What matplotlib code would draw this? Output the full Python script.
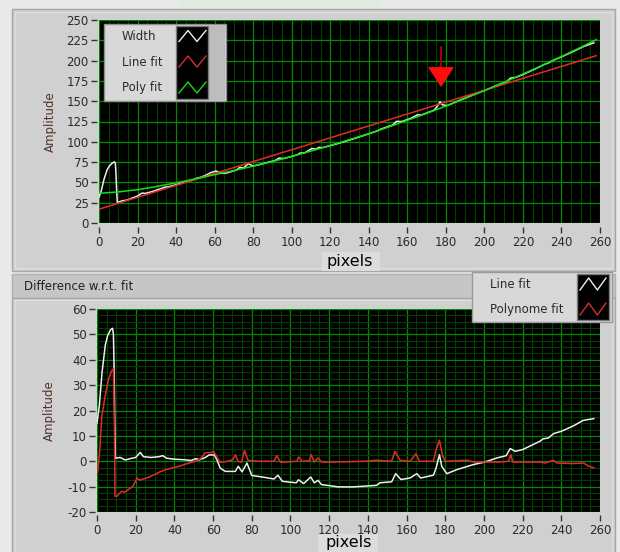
import matplotlib
matplotlib.use('Agg')
import matplotlib.pyplot as plt
from matplotlib.patches import Rectangle, Polygon
from matplotlib.ticker import MultipleLocator, NullLocator
import matplotlib.transforms as mtransforms

plt.rcParams['font.family'] = ['DejaVu Sans']
plt.rcParams['axes.unicode_minus'] = False

# ---------------- data ----------------
width_x = [0, 1.2, 2.6, 4.3, 5.5, 6.9, 8.0, 8.5, 8.8, 9.2, 9.5, 12, 14.6, 18, 20, 22.4, 24, 28, 32, 34,
           36, 40, 45, 48.7, 51, 53, 56, 58, 60.7, 62, 63.7, 66.3, 71.5, 73, 75, 77.5, 80, 87, 91.5, 93.5,
           95.8, 103, 104.2, 106.8, 110.5, 112.3, 114.3, 116, 120, 124.7, 132.4, 144.5, 146.2, 152.3, 154.4,
           157.1, 161.8, 165.3, 167.3, 173.9, 175.3, 177, 178.2, 180.8, 186, 194.6, 200, 206.7, 211.5, 213.6,
           216.2, 220, 229, 230.5, 233.4, 236, 240, 246.4, 251.3, 256.8]
width_y = [32, 39.9, 53.9, 66, 70.5, 73.8, 75.3, 73.2, 61.4, 37.7, 25.2, 27.3, 28.2, 31.4, 33.2, 36.9, 36.4, 39, 42.2, 44.1,
           44.6, 47.1, 50.6, 53, 55.4, 56.4, 59.5, 62, 64, 62.9, 61, 61.6, 65.4, 68.5, 67.7, 73.1, 70, 74.3, 77, 80,
           79.3, 84, 86, 86.4, 91.8, 90.8, 93.2, 92.8, 95.3, 98.3, 103.9, 113.4, 115.6, 120.5, 125.2,
           124.9, 128.9, 133.2, 133, 138.9, 142.8, 149.3, 145.5, 144.6, 150, 158.3, 163.1, 169.7, 174.1, 178.5,
           179.3, 182.8, 192.7, 194.7, 197.2, 200.8, 204.6, 211.5, 217.2, 221.9]

linefit_x = [0, 258]
linefit_y = [17, 206]

polyfit_x = [0, 10, 20, 30, 40, 50, 60, 70, 80, 90, 100, 110, 120, 130, 140, 150, 160, 170, 180, 190,
             200, 210, 220, 230, 240, 250, 258]
polyfit_y = [36.5, 38.3, 41, 45, 49.5, 54.3, 59.5, 64.6, 70, 75.8, 82, 88.6, 95.5, 102.6, 110, 118, 126.5,
             135, 144, 153.4, 163, 173, 183.5, 194, 205, 216.3, 225.8]

# differences w.r.t. line fit (same pixel positions as width)
diff_line_x = width_x
diff_line_y = [15, 22, 35, 45.8, 49.5, 51.7, 52.4, 50, 38, 14, 1.2, 1.5, 0.5, 1.2, 1.5, 3.5, 1.8, 1.5, 1.8, 2.2,
               1.2, 0.8, 0.6, 0.3, 1.0, 0.6, 1.5, 2.5, 2.5, 0.5, -2.7, -4, -4, -2, -4.2, -0.7, -5.6, -6.4, -7, -5.5,
               -7.9, -8.5, -7.3, -8.8, -6.2, -8.5, -7.5, -9.2, -9.6, -10.1, -10.1, -9.5, -8.5, -8.1, -4.9,
               -7.2, -6.6, -4.9, -6.6, -5.5, -2.6, 2.6, -2, -4.9, -3.3, -1.3, -0.4, 1.3, 2.2, 5,
               3.9, 4.6, 7.9, 8.8, 9.2, 10.9, 11.8, 14, 16.1, 16.8]

diff_poly_x = [0.3, 1.4, 2.5, 4.2, 5.9, 7.6, 8.5, 9.0, 9.3, 10.2, 12.7, 14.4, 18.6, 20.7, 22, 27.1, 32.2, 35.6,
               42.4, 47.5, 50.8, 53.4, 55.9, 59.3, 60.2, 63.6, 67.8, 70.3, 71.5, 72.9, 74.6, 76.3, 78, 83, 91.5,
               92.9, 94.9, 103.4, 104.2, 106, 109.7, 110.7, 112.3, 114.3, 116, 122, 139, 144.5, 152.3, 154,
               156.6, 161.8, 164.9, 166.6, 173.9, 175.3, 177, 178.7, 180, 191.2, 194.6, 208.4, 212.7, 213.9,
               214.9, 229, 231.6, 236, 237.7, 246.4, 251.6, 254.2, 256.8]
diff_poly_y = [-4.3, 4, 17.7, 25.6, 32.2, 35.7, 36.4, 13.8, -13.8, -13.8, -11.8, -12.2, -9.8, -6.6, -7.5, -6.2,
               -4.3, -3.3, -2, -0.7, 0, 0.9, 3.3, 3.5, 3.9, -0.4, 0, 0.7, 2.6, 0, -0.4, 4.2, 0.4, 0, 0,
               2.2, -0.4, 0, 1.7, 0, 0.2, 2.6, -0.3, 1.3, -0.3, -0.3, 0, 0.4, 0, 3.9,
               0.4, 0, 3, 0, 0, 4.6, 8.3, 2, 0, 0.4, -0.3, -0.3, 0, 2.6,
               -0.3, -0.3, -0.7, 0.4, -0.7, -0.9, -0.7, -2, -2.6]

top_labels = ["Width", "Line fit", "Poly fit"]
bottom_labels = ["Line fit", "Polynome fit"]
marker_x = 177.5  # arrow marking the peak

# ---------------- figure ----------------
W, H = 620, 552
fig = plt.figure(figsize=(6.2, 5.52), dpi=100)
fig.patch.set_facecolor('#e9e9e9')


def px_axes(x0, y0, x1, y1, **kw):
    return fig.add_axes([x0 / W, 1 - y1 / H, (x1 - x0) / W, (y1 - y0) / H], **kw)


bg = px_axes(0, 0, W, H, zorder=0)
bg.set_xlim(0, W); bg.set_ylim(H, 0); bg.axis('off')
bg.add_patch(Rectangle((180, 0), 200, 9, fc='#e2ebe2', ec='none'))
bg.add_patch(Rectangle((12, 9), 603, 262, fc='#d0d0d0', ec='#a6a6a6', lw=1))
bg.add_patch(Rectangle((15, 12), 597, 256, fc='none', ec='#dedede', lw=1))
bg.add_patch(Rectangle((322, 252), 58, 19, fc='#dcdcdc', ec='none'))
bg.add_patch(Rectangle((12, 274), 603, 24, fc='#c6c6c6', ec='#b0b0b0', lw=1))
bg.add_patch(Rectangle((12, 298), 603, 260, fc='#d0d0d0', ec='#a6a6a6', lw=1))
bg.add_patch(Rectangle((15, 300), 597, 260, fc='none', ec='#dedede', lw=1))
bg.add_patch(Rectangle((318, 534), 60, 20, fc='#dcdcdc', ec='none'))
bg.text(24, 286, "Difference w.r.t. fit", fontsize=8.5, color='#202020', va='center', ha='left')

ax1 = px_axes(99, 20, 600, 223, zorder=2)
ax2 = px_axes(97, 309, 600, 512, zorder=2)

grid_major = '#008a00'
grid_minor = '#003f00'
tick_col = '#333333'
lab_col = '#2a2a2a'


def style(ax, ymaj, ymin, ylim, xout, yout, ylab_pos, xlab_pos):
    ax.set_facecolor('black')
    ax.set_xlim(0, 260)
    ax.set_ylim(*ylim)
    ax.xaxis.set_major_locator(MultipleLocator(20))
    ax.xaxis.set_minor_locator(MultipleLocator(5))
    ax.yaxis.set_major_locator(MultipleLocator(ymaj))
    if ymin:
        ax.yaxis.set_minor_locator(MultipleLocator(ymin))
    else:
        ax.yaxis.set_minor_locator(NullLocator())
    ax.grid(which='minor', color=grid_minor, lw=0.8)
    ax.grid(which='major', color=grid_major, lw=0.9)
    ax.set_axisbelow(True)
    for s in ['top', 'right']:
        ax.spines[s].set_visible(False)
    ax.spines['left'].set_position(('outward', yout))
    ax.spines['bottom'].set_position(('outward', xout))
    ax.spines['left'].set_visible(False)
    ax.spines['bottom'].set_visible(False)
    ax.tick_params(which='minor', length=0)
    ax.tick_params(which='major', direction='out', length=4.5, width=1, color=tick_col,
                   labelsize=8.5, labelcolor=lab_col, pad=1.5)
    ax.set_ylabel("Amplitude", fontsize=8.5, color='#4e342a')
    ax.yaxis.set_label_coords(*ylab_pos)
    ax.set_xlabel("pixels", fontsize=11.5, color='black', va='center')
    ax.xaxis.set_label_coords(*xlab_pos)


style(ax1, 25, None, (0, 250), 3, 1.5, (-0.084, 0.5), (0.5, -0.19))
style(ax2, 10, 2.5, (-20, 60), 2.5, 1.2, (-0.082, 0.5), (0.5, -0.152))

c_white = '#eeeeee'
c_red = '#e22a2a'
c_green = '#10e010'

ax1.plot(width_x, width_y, color=c_white, lw=1.1, zorder=3)
ax1.plot(linefit_x, linefit_y, color=c_red, lw=1.1, zorder=3)
ax1.plot(polyfit_x, polyfit_y, color=c_green, lw=1.1, zorder=3)

# arrow marker at the peak
ax1.plot([marker_x, marker_x], [192, 217], color='#b00000', lw=1.3, zorder=5)
tri_trans = fig.dpi_scale_trans + mtransforms.ScaledTranslation(marker_x, 192, ax1.transData)
ax1.add_patch(Polygon([(-0.13, 0), (0.13, 0), (0, -0.20)], closed=True, transform=tri_trans,
                      fc='#ff0c0c', ec='none', zorder=6, clip_on=False))

ax2.plot(diff_line_x, diff_line_y, color=c_white, lw=1.1, zorder=3)
ax2.plot(diff_poly_x, diff_poly_y, color=c_red, lw=1.1, zorder=3)

# ---------------- legends (overlay) ----------------
ov = px_axes(0, 0, W, H, zorder=10)
ov.set_xlim(0, W); ov.set_ylim(H, 0); ov.axis('off'); ov.patch.set_alpha(0)


def zigzag(ax, x0, x1, yc, h, color):
    xs = [x0, x0 + (x1 - x0) / 3, x0 + 2 * (x1 - x0) / 3, x1]
    ys = [yc + h, yc - h, yc + h, yc - h]
    ax.plot(xs, ys, color=color, lw=1.0)


# top legend
ov.add_patch(Rectangle((104, 24), 122, 77, fc='#d8d8d8', ec='#8f8f8f', lw=1))
ov.add_patch(Rectangle((209, 25), 16, 75, fc='#bdbdbd', ec='none'))
ov.add_patch(Rectangle((176, 26), 32, 73, fc='black', ec='#7a7a7a', lw=1))
for lab, yc, col in zip(top_labels, [36.5, 62, 88], [c_white, '#d03030', c_green]):
    ov.text(122, yc, lab, fontsize=8.5, color='#2a2a2a', va='center', ha='left')
    zigzag(ov, 179, 206, yc - 0.5, 5.5, col)

# bottom legend
ov.add_patch(Rectangle((472, 272), 140, 50, fc='#d8d8d8', ec='#9a9a9a', lw=1))
ov.add_patch(Rectangle((577, 274), 32, 46, fc='black', ec='#7a7a7a', lw=1))
for lab, yc, col in zip(bottom_labels, [284, 309], [c_white, '#d03030']):
    ov.text(490, yc, lab, fontsize=8.5, color='#2a2a2a', va='center', ha='left')
    zigzag(ov, 580, 606, yc, 6, col)

fig.savefig('out.png', dpi=100, facecolor=fig.get_facecolor())
